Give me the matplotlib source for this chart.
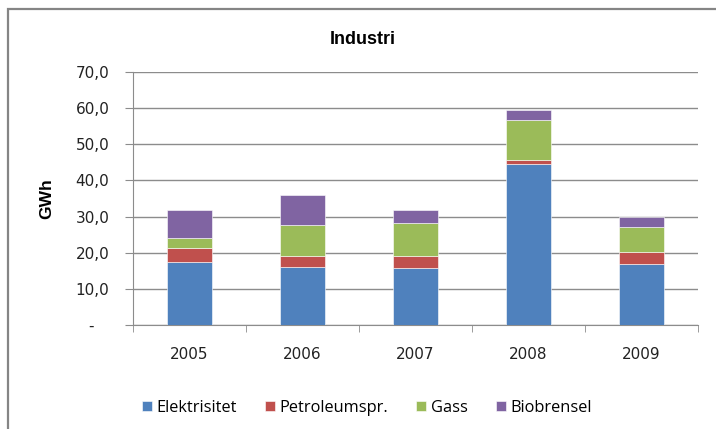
import matplotlib
matplotlib.use('Agg')
import matplotlib.pyplot as plt
from matplotlib.patches import Rectangle
from matplotlib.ticker import FuncFormatter, FixedLocator
import numpy as np

plt.rcParams['font.family'] = ['DejaVu Sans']

years = ['2005', '2006', '2007', '2008', '2009']
elektrisitet = [17.4, 16.0, 15.9, 44.6, 16.9]
petroleum = [3.9, 3.2, 3.3, 1.0, 3.3]
gass = [2.9, 8.4, 9.1, 11.1, 6.8]
biobrensel = [7.6, 8.4, 3.5, 2.7, 2.8]

series = [
    ('Elektrisitet', elektrisitet, '#4F81BD'),
    ('Petroleumspr.', petroleum, '#C0504D'),
    ('Gass', gass, '#9BBB59'),
    ('Biobrensel', biobrensel, '#8064A2'),
]

W, H = 716, 429
fig = plt.figure(figsize=(W / 100, H / 100), dpi=100)
ax = fig.add_axes([133 / W, 1 - 325 / H, (698 - 133) / W, (325 - 72) / H])

x = np.arange(len(years))
bottom = np.zeros(len(years))
for name, vals, col in series:
    ax.bar(x, vals, width=0.4, bottom=bottom, color=col, label=name,
           edgecolor='white', linewidth=0.4, zorder=3)
    bottom += np.array(vals)

ax.set_xlim(-0.5, len(years) - 0.5)
ax.set_ylim(0, 70)
ax.set_yticks(np.arange(0, 71, 10))
# Excel-style: comma decimals, dash for zero
ax.yaxis.set_major_formatter(FuncFormatter(
    lambda v, p: '-   ' if v == 0 else f'{v:.1f}'.replace('.', ',')))
ax.grid(axis='y', color='#8c8c8c', linewidth=1.0, zorder=0)
ax.set_axisbelow(True)

ax.set_xticks(x)
ax.set_xticklabels(years)
ax.xaxis.set_minor_locator(FixedLocator(np.arange(-0.5, len(years), 1.0)))
ax.tick_params(axis='x', which='major', length=0, pad=16, labelsize=11, colors='#222222')
ax.tick_params(axis='x', which='minor', length=5, color='#8c8c8c')
ax.tick_params(axis='y', length=6, color='#8c8c8c', labelsize=11, pad=11, labelcolor='#222222')

for s in ['top', 'right']:
    ax.spines[s].set_visible(False)
for s in ['left', 'bottom']:
    ax.spines[s].set_color('#8c8c8c')

ax.set_ylabel('GWh', fontsize=12.5, fontweight='bold', labelpad=15,
              family=['Liberation Sans', 'DejaVu Sans'])
fig.text(363 / W, 1 - 40 / H, 'Industri', ha='center', va='center',
         fontsize=13, fontweight='bold', family=['Liberation Sans Narrow', 'Liberation Sans', 'DejaVu Sans'])

fig.legend(loc='center', bbox_to_anchor=(367 / W, 1 - 408 / H), ncol=4, frameon=False,
           handlelength=0.6, handleheight=0.6, handletextpad=0.3,
           columnspacing=1.7, prop={'family': ['Open Sans', 'DejaVu Sans'], 'size': 11.8})

# outer chart frame (only top and left visible in the crop)
fig.patches.append(Rectangle((8 / W, -0.1), 1.2, 1 - 9 / H + 0.1, transform=fig.transFigure,
                             fill=False, edgecolor='#858585', linewidth=1.6))

fig.savefig('out.png', dpi=100)
